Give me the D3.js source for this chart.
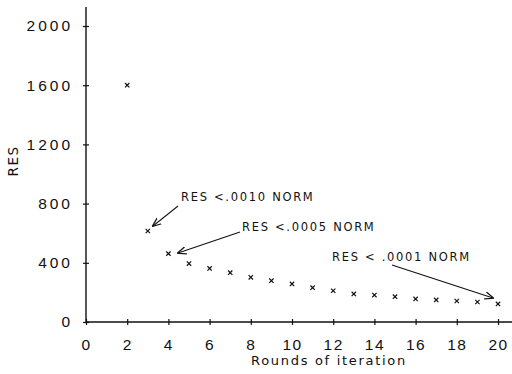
<!DOCTYPE html>
<html>
<head>
<meta charset="utf-8">
<script src="https://cdn.jsdelivr.net/npm/d3@7"></script>
<style>
  body { margin: 0; background: #fff; }
  svg { display: block; font-family: "DejaVu Sans", sans-serif; }
</style>
</head>
<body>
<svg id="chart" width="512" height="374"></svg>
<script>
// data
const rounds = [2, 3, 4, 5, 6, 7, 8, 9, 10, 11, 12, 13, 14, 15, 16, 17, 18, 19, 20];
const res = [1600, 615, 462, 395, 362, 333, 302, 279, 257, 232, 211, 190, 182, 171, 156, 149, 142, 135, 122];
const xTicks = [0, 2, 4, 6, 8, 10, 12, 14, 16, 18, 20];
const yTicks = [0, 400, 800, 1200, 1600, 2000];
const notes = [
  { label: 'RES <.0010 NORM', tx: 181, ty: 201, ax: 178, ay: 206, hx: 153, hy: 226 },
  { label: 'RES <.0005 NORM', tx: 242, ty: 231, ax: 240, ay: 232, hx: 178, hy: 253 },
  { label: 'RES < .0001 NORM', tx: 332, ty: 261, ax: 392, ay: 265, hx: 493, hy: 298 }
];

const svg = d3.select('#chart');
const ink = '#111';

const x = d3.scaleLinear().domain([0, 20]).range([86, 498]);
const y = d3.scaleLinear().domain([0, 2000]).range([322, 26]);

// axes: ticks cross the line on both sides
const yAxis = svg.append('g')
  .attr('transform', `translate(${x(0)},0)`)
  .call(d3.axisLeft(y).tickValues(yTicks).tickSize(3).tickPadding(10).tickFormat(d3.format('d')));
yAxis.select('.domain').remove();
yAxis.selectAll('.tick line').attr('x1', 3).attr('stroke', ink).attr('stroke-width', 1.2);
yAxis.selectAll('.tick text')
  .attr('fill', ink).style('font-size', '15.5px').style('letter-spacing', '3px');

svg.append('line')
  .attr('x1', x(0)).attr('x2', x(0))
  .attr('y1', 7).attr('y2', y(0))
  .attr('stroke', ink).attr('stroke-width', 1.4);

const xAxis = svg.append('g')
  .attr('transform', `translate(0,${y(0)})`)
  .call(d3.axisBottom(x).tickValues(xTicks).tickSize(3).tickPadding(14).tickFormat(d3.format('d')));
xAxis.select('.domain').remove();
xAxis.selectAll('.tick line').attr('y1', -3).attr('stroke', ink).attr('stroke-width', 1.2);
xAxis.selectAll('.tick text')
  .attr('fill', ink).style('font-size', '15.5px').style('letter-spacing', '1.5px');

svg.append('line')
  .attr('x1', x(0)).attr('x2', 512)
  .attr('y1', y(0)).attr('y2', y(0))
  .attr('stroke', ink).attr('stroke-width', 1.4);

// axis titles
svg.append('text')
  .attr('transform', `translate(18,161) rotate(-90)`)
  .attr('text-anchor', 'middle')
  .attr('fill', ink)
  .style('font-size', '13.5px')
  .style('letter-spacing', '1.5px')
  .text('RES');

svg.append('text')
  .attr('x', 329).attr('y', 365)
  .attr('text-anchor', 'middle')
  .attr('fill', ink)
  .style('font-size', '13px')
  .style('letter-spacing', '1.7px')
  .text('Rounds of iteration');

// points
const pts = rounds.map((r, i) => ({ r, v: res[i] }));
svg.append('g').selectAll('path')
  .data(pts)
  .join('path')
  .attr('transform', d => `translate(${x(d.r)},${y(d.v)})`)
  .attr('d', d3.symbol(d3.symbolX, 14))
  .attr('fill', 'none')
  .attr('stroke', ink)
  .attr('stroke-width', 1.2);

// annotations with arrows
svg.append('defs').append('marker')
  .attr('id', 'head')
  .attr('viewBox', '0 0 10 10')
  .attr('refX', 9).attr('refY', 5)
  .attr('markerWidth', 9).attr('markerHeight', 9)
  .attr('markerUnits', 'userSpaceOnUse')
  .attr('orient', 'auto')
  .append('path')
  .attr('d', 'M0,1 L10,5 L0,9')
  .attr('fill', 'none')
  .attr('stroke', ink)
  .attr('stroke-width', 1.4);

const ann = svg.append('g');
ann.selectAll('line')
  .data(notes)
  .join('line')
  .attr('x1', d => d.ax).attr('y1', d => d.ay)
  .attr('x2', d => d.hx).attr('y2', d => d.hy)
  .attr('stroke', ink).attr('stroke-width', 1.1)
  .attr('marker-end', 'url(#head)');

ann.selectAll('text')
  .data(notes)
  .join('text')
  .attr('x', d => d.tx).attr('y', d => d.ty)
  .attr('fill', ink)
  .style('font-size', '11.5px')
  .style('letter-spacing', '1.7px')
  .text(d => d.label);
</script>
</body>
</html>
